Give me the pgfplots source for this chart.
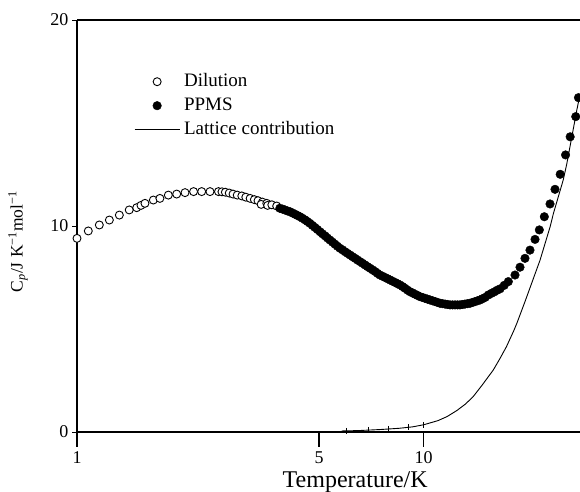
\documentclass[border=0pt]{standalone}
\usepackage{pgfplots}
\pgfplotsset{compat=1.18}
\usepackage{fontspec}
\setmainfont{Liberation Serif}

\pgfplotstableread{
T C
1.000 9.40
1.078 9.76
1.160 10.05
1.240 10.29
1.325 10.53
1.415 10.78
1.487 10.89
1.530 11.00
1.571 11.10
1.661 11.26
1.735 11.34
1.835 11.50
1.940 11.55
2.050 11.62
2.170 11.67
2.290 11.67
2.420 11.67
2.560 11.67
2.620 11.66
2.680 11.64
2.750 11.60
2.820 11.55
2.900 11.50
2.990 11.46
3.070 11.40
3.160 11.34
3.250 11.28
3.330 11.23
3.430 11.16
3.400 11.05
3.530 11.10
3.550 11.00
3.650 11.03
3.770 10.97
}\dilution

\pgfplotstableread{
T C
3.85 10.86
3.92 10.82
3.98 10.78
4.05 10.73
4.12 10.69
4.19 10.63
4.26 10.57
4.33 10.51
4.40 10.45
4.47 10.38
4.55 10.30
4.62 10.22
4.70 10.13
4.78 10.03
4.86 9.93
4.94 9.83
5.03 9.72
5.11 9.62
5.20 9.52
5.28 9.42
5.37 9.32
5.46 9.22
5.55 9.12
5.64 9.02
5.74 8.92
5.84 8.84
5.94 8.75
6.04 8.67
6.14 8.59
6.24 8.51
6.35 8.43
6.45 8.35
6.56 8.27
6.67 8.19
6.78 8.11
6.89 8.03
7.01 7.95
7.13 7.87
7.25 7.79
7.37 7.70
7.49 7.62
7.62 7.56
7.75 7.50
7.88 7.44
8.01 7.38
8.14 7.32
8.28 7.26
8.41 7.20
8.55 7.14
8.70 7.06
8.84 6.98
8.99 6.89
9.14 6.81
9.30 6.75
9.45 6.69
9.61 6.63
9.77 6.57
9.94 6.53
10.10 6.49
10.27 6.45
10.44 6.41
10.62 6.37
10.80 6.33
10.98 6.29
11.16 6.25
11.35 6.23
11.54 6.21
11.73 6.19
11.93 6.17
12.13 6.17
12.33 6.17
12.54 6.17
12.74 6.17
12.95 6.19
13.17 6.21
13.39 6.23
13.62 6.25
13.85 6.29
14.08 6.33
14.32 6.37
14.56 6.41
14.80 6.47
15.05 6.53
15.38 6.65
15.70 6.73
16.00 6.80
16.30 6.88
16.63 6.95
17.10 7.12
17.57 7.30
18.37 7.62
18.99 8.00
19.63 8.43
20.29 8.83
20.98 9.35
21.59 9.81
22.32 10.45
23.18 11.07
23.96 11.78
24.80 12.51
25.70 13.45
26.50 14.33
27.50 15.31
28.00 16.23
}\ppms

\pgfplotstableread{
T C
5.80 0.05
6.50 0.07
7.50 0.12
8.50 0.18
9.30 0.25
10.00 0.35
11.00 0.55
11.70 0.75
12.50 1.05
13.20 1.35
13.90 1.71
14.80 2.30
15.90 3.01
16.60 3.55
17.35 4.14
18.20 4.90
18.60 5.28
19.60 6.30
20.70 7.40
21.70 8.35
23.20 9.97
23.70 10.60
25.30 12.23
25.90 13.00
27.70 15.63
28.30 16.40
}\lattice

\begin{document}
\begin{tikzpicture}
\begin{axis}[
  xmode=log, log basis x=10,
  scale only axis, width=503pt, height=412pt,
  xmin=1, xmax=28.29, ymin=0, ymax=20,
  axis x line*=box, axis y line*=left,
  axis line style={line width=1.4pt, black},
  xtick={1,5,10}, xticklabels={1,5,10},
  ytick={0,10,20},
  xminorticks=false, yminorticks=false,
  tick align=outside, major tick length=5pt,
  x tick style={draw=none},
  y tick style={line width=1pt, black},
  ticklabel style={font=\fontsize{18}{18}\selectfont},
  /pgf/number format/assume math mode=true,
  xticklabel style={yshift=-11pt},
  xlabel={Temperature/K},
  xlabel style={at={(axis description cs:0.553,0)}, anchor=base, yshift=-55pt, font=\fontsize{24}{24}\selectfont},
  ylabel={C\textsubscript{\textit{p}}/J K\textsuperscript{−1}mol\textsuperscript{−1}},
  ylabel style={at={(axis description cs:-0.1173,0.462)}, anchor=center, font=\fontsize{17.5}{17.5}\selectfont},
  clip=false,
  legend style={draw=none, fill=none, inner sep=0pt, at={(axis description cs:0.1133,0.8738)}, anchor=north west,
    font=\fontsize{19}{19}\selectfont, row sep=5pt, column sep=3pt,
    nodes={inner sep=1pt, text height=13pt, text depth=4pt}},
  legend cell align=left,
  legend image code/.code={\draw[#1, mark repeat=2, mark phase=2] plot coordinates {(0pt,0pt) (22.5pt,0pt) (45pt,0pt)};},
]
\coordinate (O) at (rel axis cs:0,0);
\addplot[only marks, mark=*, mark size=4pt, mark options={fill=white, draw=black, line width=0.9pt}] table[x=T,y=C] {\dilution};
\addlegendentry{Dilution}
\addplot[only marks, mark=*, mark size=4.3pt, mark options={fill=black, draw=black}] table[x=T,y=C] {\ppms};
\addlegendentry{PPMS}
\addplot[black, line width=0.9pt, no marks] table[x=T,y=C] {\lattice};
\addlegendentry{Lattice contribution}
\addplot[only marks, mark=|, mark size=3pt, mark options={line width=0.7pt}, forget plot] coordinates {(6.0,0.06) (6.92,0.1) (7.92,0.15) (9.04,0.22) (10.0,0.35)};
\draw[line width=1.4pt] (axis cs:1,0) -- ++(0pt,-15pt);
\draw[line width=1.4pt] (axis cs:5,0) -- ++(0pt,-15pt);
\draw[line width=1.4pt] (axis cs:10,0) -- ++(0pt,-15pt);
\end{axis}
\pgfresetboundingbox
\path[use as bounding box] (O) ++(-77pt,-59pt) rectangle ++(580pt,491pt);
\end{tikzpicture}
\end{document}
